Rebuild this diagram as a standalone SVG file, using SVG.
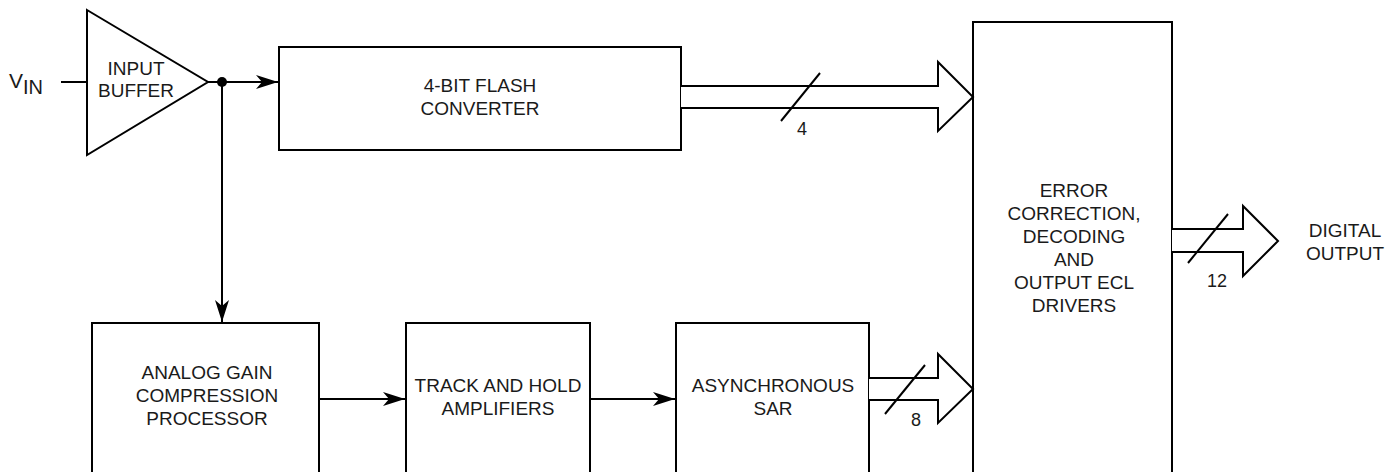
<svg xmlns="http://www.w3.org/2000/svg" width="1400" height="472" viewBox="0 0 1400 472">
<style>
.box{fill:#fff;stroke:#000;stroke-width:2}
.ln{fill:none;stroke:#000;stroke-width:2}
.bus{fill:#fff;stroke:#000;stroke-width:2;stroke-linejoin:miter}
.t{font-family:"Liberation Sans",Arial,sans-serif;font-size:19px;fill:#1a1a1a;text-anchor:middle}
.n{font-size:18px}
</style>
<defs>
<marker id="ah" markerUnits="userSpaceOnUse" markerWidth="24" markerHeight="16" refX="22" refY="8" orient="auto" viewBox="0 0 24 16">
<path d="M0,1 L22,8 L0,15 L6,8 Z" fill="#000"/>
</marker>
</defs>
<g id="vin">
<text x="9" y="88" style="font-family:'Liberation Sans',Arial,sans-serif;font-size:21px;fill:#1a1a1a">V<tspan font-size="20" dy="6">IN</tspan></text>
</g>
<g id="input-buffer">
<polygon class="box" points="87,10 208,82 87,155"/>
<text class="t" x="136" y="75">INPUT</text>
<text class="t" x="136" y="97">BUFFER</text>
</g>
<g id="flash">
<rect class="box" x="279" y="47" width="402" height="103"/>
<text class="t" x="480" y="92">4-BIT FLASH</text>
<text class="t" x="480" y="115">CONVERTER</text>
</g>
<g id="analog">
<rect class="box" x="92" y="323" width="227" height="160"/>
<text class="t" x="207" y="379">ANALOG GAIN</text>
<text class="t" x="207" y="402">COMPRESSION</text>
<text class="t" x="207" y="425">PROCESSOR</text>
</g>
<g id="track">
<rect class="box" x="406" y="323" width="184" height="160"/>
<text class="t" x="498" y="392">TRACK AND HOLD</text>
<text class="t" x="498" y="415">AMPLIFIERS</text>
</g>
<g id="sar">
<rect class="box" x="676" y="323" width="193" height="160"/>
<text class="t" x="773" y="392">ASYNCHRONOUS</text>
<text class="t" x="773" y="415">SAR</text>
</g>
<g id="error">
<rect class="box" x="973" y="22" width="199" height="470"/>
<text class="t" x="1074" y="197">ERROR</text>
<text class="t" x="1074" y="220">CORRECTION,</text>
<text class="t" x="1074" y="243">DECODING</text>
<text class="t" x="1074" y="266">AND</text>
<text class="t" x="1074" y="289">OUTPUT ECL</text>
<text class="t" x="1074" y="312">DRIVERS</text>
</g>
<g id="digital-output">
<text class="t" x="1345" y="237">DIGITAL</text>
<text class="t" x="1345" y="260">OUTPUT</text>
</g>
<g id="connectors">
<line class="ln" x1="61" y1="82" x2="87" y2="82"/>
<line class="ln" x1="208" y1="82" x2="278" y2="82" marker-end="url(#ah)"/>
<circle cx="222" cy="82" r="5" fill="#000"/>
<line class="ln" x1="222" y1="82" x2="222" y2="322" marker-end="url(#ah)"/>
<line class="ln" x1="319" y1="399" x2="405" y2="399" marker-end="url(#ah)"/>
<line class="ln" x1="590" y1="399" x2="675" y2="399" marker-end="url(#ah)"/>
<path class="bus" d="M681,86 L938,86 L938,62 L973,97 L938,131 L938,108 L681,108"/>
<line class="ln" x1="781" y1="121" x2="820" y2="73"/>
<text class="t n" x="802" y="135">4</text>
<path class="bus" d="M869,378 L938,378 L938,354 L973,389 L938,423 L938,400 L869,400"/>
<line class="ln" x1="885" y1="414" x2="925" y2="365"/>
<text class="t n" x="916" y="426">8</text>
<path class="bus" d="M1172,229 L1243,229 L1243,206 L1278,241 L1243,276 L1243,252 L1172,252"/>
<line class="ln" x1="1188" y1="263" x2="1228" y2="214"/>
<text class="t n" x="1217" y="287">12</text>
</g>
</svg>
